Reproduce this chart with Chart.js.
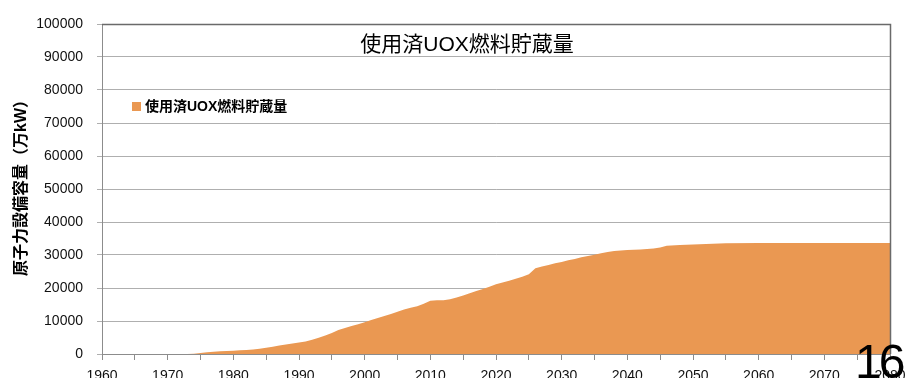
<!DOCTYPE html>
<html>
<head>
<meta charset="utf-8">
<script src="https://cdn.jsdelivr.net/npm/chart.js@4/dist/chart.umd.min.js"></script>
<style>
  html, body { margin: 0; padding: 0; background: #fff; overflow: hidden; }
  #wrap { position: relative; width: 910px; height: 392px; }
  #pageNo {
    position: absolute; left: 855px; top: 338px;
    font-family: "Liberation Sans", Arial, sans-serif; font-size: 48px;
    color: #000; line-height: 1; letter-spacing: -3px;
  }
</style>
</head>
<body>
<div id="wrap">
  <canvas id="c" width="910" height="392"></canvas>
  <div id="pageNo">16</div>
</div>
<script>
const chartTitle = '使用済UOX燃料貯蔵量';
const seriesName = '使用済UOX燃料貯蔵量';
const yAxisTitle = '原子力設備容量（万kW）';

const years = [
  1973, 1974, 1975, 1976, 1977, 1978, 1979, 1980, 1981, 1982,
  1983, 1984, 1985, 1986, 1987, 1988, 1989, 1990, 1991, 1992,
  1993, 1994, 1995, 1996, 1997, 1998, 1999, 2000, 2001, 2002,
  2003, 2004, 2005, 2006, 2007, 2008, 2009, 2010, 2011, 2012,
  2013, 2014, 2015, 2016, 2017, 2018, 2019, 2020, 2021, 2022,
  2023, 2024, 2025, 2026, 2027, 2028, 2029, 2030, 2031, 2032,
  2033, 2034, 2035, 2036, 2037, 2038, 2039, 2040, 2042, 2044,
  2045, 2046, 2048, 2050, 2052, 2055, 2060, 2070, 2080
];
const storage = [
  0, 100, 300, 500, 700, 800, 900, 1000, 1100, 1200,
  1400, 1600, 1900, 2200, 2600, 2900, 3200, 3500, 3800, 4300,
  4900, 5600, 6400, 7300, 7900, 8500, 9000, 9600, 10300, 10900,
  11500, 12100, 12800, 13500, 14000, 14500, 15200, 16100, 16300, 16300,
  16600, 17100, 17700, 18400, 19100, 19700, 20400, 21100, 21700, 22200,
  22800, 23400, 24200, 26000, 26500, 27000, 27500, 27900, 28400, 28800,
  29300, 29700, 30100, 30500, 30900, 31200, 31400, 31500, 31700, 32000,
  32300, 32800, 33000, 33200, 33300, 33550, 33600, 33600, 33600
];
const yTicks = [0, 10000, 20000, 30000, 40000, 50000, 60000, 70000, 80000, 90000, 100000];
const xMin = 1960, xMax = 2080;

const latin = '"Liberation Sans", Arial, "Noto Sans CJK JP", sans-serif';
const fillColor = '#EA9852';

// Title, legend, axis title and plot frame
const overlay = {
  id: 'overlay',
  afterDraw(chart) {
    const { ctx, chartArea: a } = chart;
    ctx.save();
    ctx.strokeStyle = '#6a6a6a';
    ctx.lineWidth = 1.5;
    ctx.beginPath();
    ctx.moveTo(a.left, a.top + 0.5);
    ctx.lineTo(a.right + 0.5, a.top + 0.5);
    ctx.lineTo(a.right + 0.5, a.bottom);
    ctx.stroke();

    ctx.fillStyle = '#000';
    ctx.font = '21px ' + latin;
    ctx.textAlign = 'center';
    ctx.textBaseline = 'middle';
    ctx.fillText(chartTitle, 467, 45);

    ctx.fillStyle = fillColor;
    ctx.fillRect(132, 102, 9, 9);
    ctx.fillStyle = '#000';
    ctx.font = 'bold 14px ' + latin;
    ctx.textAlign = 'left';
    ctx.fillText(seriesName, 145, 107);

    ctx.translate(22, 184);
    ctx.rotate(-Math.PI / 2);
    ctx.font = 'bold 16px ' + latin;
    ctx.textAlign = 'center';
    ctx.fillText(yAxisTitle, 0, 0);
    ctx.restore();
  }
};

new Chart(document.getElementById('c'), {
  type: 'line',
  data: {
    datasets: [{
      label: seriesName,
      data: years.map((y, i) => ({ x: y, y: storage[i] })),
      fill: 'origin',
      backgroundColor: fillColor,
      borderWidth: 0,
      borderColor: fillColor,
      pointRadius: 0,
      tension: 0
    }]
  },
  options: {
    responsive: false,
    animation: false,
    layout: { padding: { top: 24, right: 20, left: 0, bottom: 0 } },
    plugins: { legend: { display: false }, title: { display: false }, tooltip: { enabled: false } },
    scales: {
      x: {
        type: 'linear',
        min: xMin, max: xMax,
        afterFit(s) { s.height = 38; s.paddingLeft = 0; s.paddingRight = 0; },
        ticks: {
          stepSize: 5,
          autoSkip: false,
          maxRotation: 0,
          padding: 8,
          color: '#111',
          font: { family: latin, size: 14 },
          callback: v => (v % 10 === 0 ? String(v) : '')
        },
        grid: { drawOnChartArea: false, drawTicks: true, tickLength: 6, color: '#8c8c8c' },
        border: { color: '#8c8c8c', width: 1 }
      },
      y: {
        min: 0, max: 100000,
        z: 1,
        afterFit(s) { s.width = 102; },
        afterBuildTicks(s) { s.ticks = yTicks.map(v => ({ value: v })); },
        ticks: {
          padding: 14,
          color: '#111',
          font: { family: latin, size: 14 },
          callback: v => String(v)
        },
        grid: { color: 'rgba(110,110,110,0.55)', tickLength: 5, lineWidth: 1 },
        border: { color: '#8c8c8c', width: 1 }
      }
    }
  },
  plugins: [overlay]
});
</script>
</body>
</html>
